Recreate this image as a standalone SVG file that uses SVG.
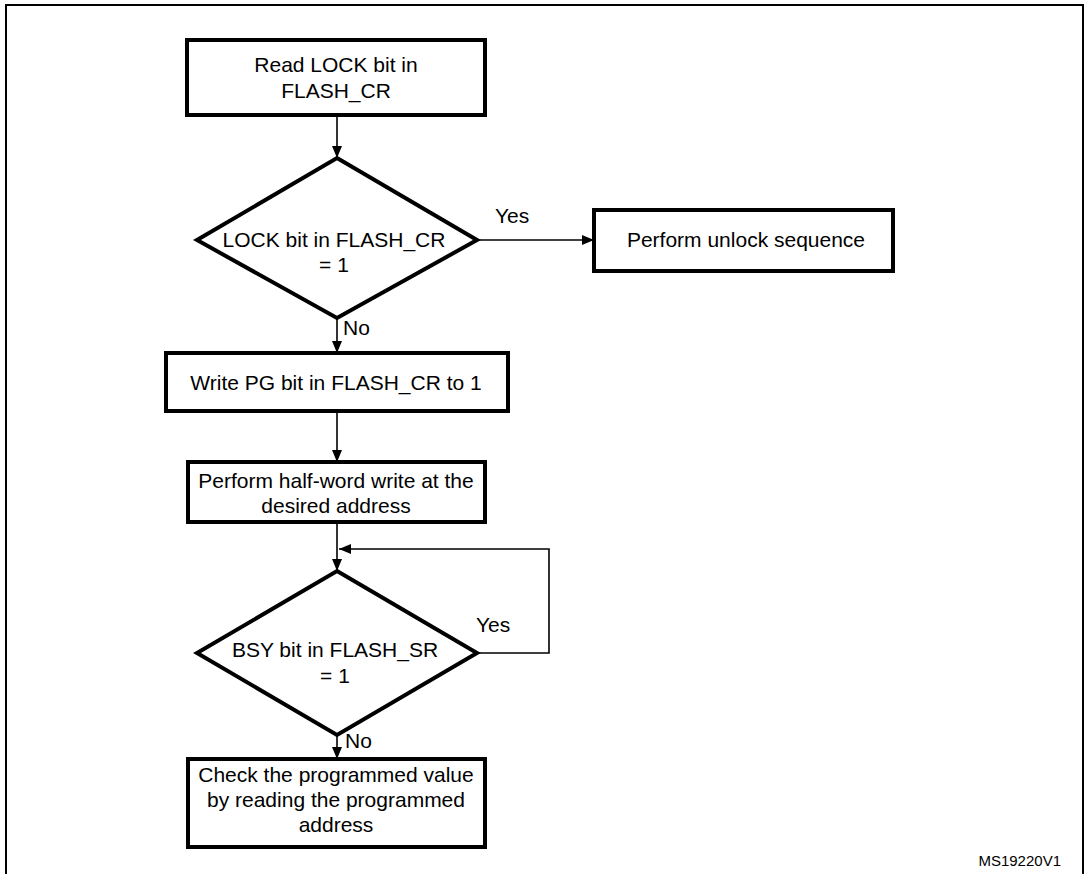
<svg xmlns="http://www.w3.org/2000/svg" width="1085" height="874" viewBox="0 0 1085 874">
<style>
.node{fill:#fff;stroke:#000;stroke-width:4}
.t{font-family:"Liberation Sans",Arial,sans-serif;font-size:21px;fill:#000;text-anchor:middle}
.lbl{font-family:"Liberation Sans",Arial,sans-serif;font-size:21px;fill:#000}
.c{fill:none;stroke:#000;stroke-width:1.6}
</style>
<defs>
<marker id="ah" markerWidth="12" markerHeight="10" refX="12" refY="5" orient="auto" markerUnits="userSpaceOnUse">
<path d="M0,0 L12,5 L0,10 Z" fill="#000"/>
</marker>
</defs>
<rect x="0" y="0" width="1085" height="874" fill="#fff"/>
<path d="M6,874 V5 H1083 V874" fill="none" stroke="#000" stroke-width="2"/>
<g id="connectors">
<line class="c" x1="337" y1="115" x2="337" y2="158" marker-end="url(#ah)"/>
<line class="c" x1="477" y1="240" x2="594" y2="240" marker-end="url(#ah)"/>
<line class="c" x1="337" y1="318" x2="337" y2="353" marker-end="url(#ah)"/>
<line class="c" x1="337" y1="411" x2="337" y2="462" marker-end="url(#ah)"/>
<line class="c" x1="337" y1="522" x2="337" y2="571" marker-end="url(#ah)"/>
<polyline class="c" points="477,653 549,653 549,549 339,549" marker-end="url(#ah)"/>
<line class="c" x1="337" y1="735" x2="337" y2="759" marker-end="url(#ah)"/>
<text class="lbl" x="495" y="223">Yes</text>
<text class="lbl" x="343" y="335">No</text>
<text class="lbl" x="476" y="632">Yes</text>
<text class="lbl" x="345" y="748">No</text>
</g>
<g id="read-lock">
<rect class="node" x="187" y="40" width="298" height="75"/>
<text class="t" x="336" y="72">Read LOCK bit in</text>
<text class="t" x="336" y="98">FLASH_CR</text>
</g>
<g id="lock-decision">
<polygon class="node" points="337,158 477,240 337,318 197,240"/>
<text class="t" x="334" y="247">LOCK bit in FLASH_CR</text>
<text class="t" x="334" y="272">= 1</text>
</g>
<g id="unlock">
<rect class="node" x="594" y="210" width="299" height="61"/>
<text class="t" x="746" y="247">Perform unlock sequence</text>
</g>
<g id="write-pg">
<rect class="node" x="166" y="353" width="342" height="58"/>
<text class="t" x="336" y="390">Write PG bit in FLASH_CR to 1</text>
</g>
<g id="half-word">
<rect class="node" x="188" y="462" width="297" height="60"/>
<text class="t" x="336" y="488">Perform half-word write at the</text>
<text class="t" x="336" y="513">desired address</text>
</g>
<g id="bsy-decision">
<polygon class="node" points="337,571 477,653 337,735 197,653"/>
<text class="t" x="335" y="657">BSY bit in FLASH_SR</text>
<text class="t" x="335" y="683">= 1</text>
</g>
<g id="check">
<rect class="node" x="188" y="759" width="297" height="88"/>
<text class="t" x="336" y="782">Check the programmed value</text>
<text class="t" x="336" y="807">by reading the programmed</text>
<text class="t" x="336" y="832">address</text>
</g>
<text x="1061" y="866" font-family="'Liberation Sans',Arial,sans-serif" font-size="15" text-anchor="end" fill="#000">MS19220V1</text>
</svg>
